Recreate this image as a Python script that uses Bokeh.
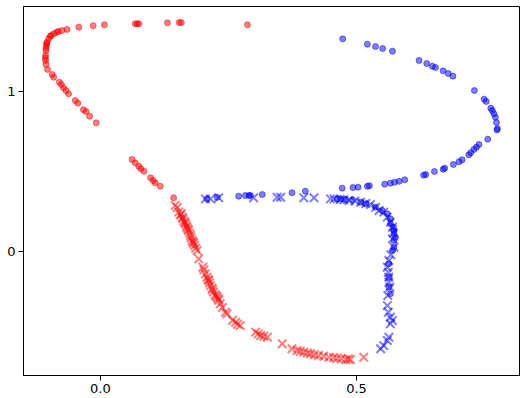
from bokeh.plotting import figure
from bokeh.models import FixedTicker, Range1d
from bokeh.embed import file_html
from bokeh.resources import INLINE

# red circles
red_o_x = [-0.042, -0.014, 0.008, 0.068, 0.072, 0.075, 0.131, 0.154, 0.158, 0.287,
           -0.065, -0.075, -0.085, -0.091, -0.096, -0.101, -0.104, -0.105, -0.106, -0.107,
           -0.107, -0.106, -0.103, -0.094, -0.091, -0.080, -0.076, -0.072, -0.067, -0.062,
           -0.049, -0.044, -0.033, -0.028, -0.021, -0.008, 0.062, 0.068, 0.075, 0.079,
           0.085, 0.098, 0.103, 0.107, 0.117, 0.143,
           -0.106, -0.107, -0.105, -0.098, -0.082]
red_o_y = [1.402, 1.411, 1.417, 1.423, 1.423, 1.423, 1.429, 1.431, 1.431, 1.417,
           1.388, 1.381, 1.371, 1.361, 1.350, 1.329, 1.308, 1.288, 1.256, 1.225,
           1.194, 1.169, 1.138, 1.106, 1.089, 1.058, 1.044, 1.023, 1.006, 0.986,
           0.944, 0.927, 0.886, 0.875, 0.846, 0.804, 0.575, 0.554, 0.533, 0.517,
           0.502, 0.461, 0.444, 0.429, 0.408, 0.336,
           1.270, 1.210, 1.300, 1.345, 1.375]

# red crosses
red_x_x = [0.146, 0.150, 0.153, 0.156, 0.160, 0.163, 0.166, 0.169, 0.172, 0.174,
           0.176, 0.179, 0.182, 0.184, 0.186, 0.189, 0.192, 0.200, 0.202, 0.205,
           0.208, 0.210, 0.212, 0.215, 0.218, 0.221, 0.224, 0.228, 0.231, 0.234,
           0.238, 0.244, 0.247, 0.258, 0.264, 0.268, 0.273, 0.303, 0.308, 0.313,
           0.319, 0.326, 0.355, 0.374, 0.384, 0.390, 0.397, 0.404, 0.410, 0.418,
           0.426, 0.436, 0.446, 0.455, 0.462, 0.470, 0.479, 0.484, 0.488, 0.514,
           0.158, 0.161, 0.165, 0.168, 0.171, 0.177, 0.181, 0.213, 0.219, 0.226, 0.230]
red_x_y = [0.288, 0.275, 0.246, 0.228, 0.214, 0.190, 0.173, 0.150, 0.131, 0.115,
           0.100, 0.069, 0.052, 0.038, 0.020, 0.006, -0.046, -0.098, -0.114, -0.140,
           -0.161, -0.175, -0.181, -0.213, -0.230, -0.254, -0.270, -0.286, -0.305, -0.327,
           -0.350, -0.379, -0.389, -0.430, -0.442, -0.455, -0.463, -0.504, -0.515, -0.525,
           -0.530, -0.536, -0.577, -0.608, -0.619, -0.623, -0.629, -0.634, -0.639, -0.645,
           -0.650, -0.655, -0.661, -0.663, -0.667, -0.670, -0.675, -0.672, -0.675, -0.661,
           0.236, 0.205, 0.182, 0.160, 0.140, 0.085, 0.060, -0.196, -0.240, -0.278, -0.296]

# blue circles
blue_o_x = [0.473, 0.521, 0.537, 0.551, 0.570, 0.622, 0.637, 0.648, 0.654, 0.669,
            0.679, 0.688, 0.730, 0.749, 0.753, 0.762, 0.765, 0.768, 0.771, 0.773,
            0.775, 0.774, 0.756, 0.739, 0.734, 0.729, 0.723, 0.719, 0.706, 0.700,
            0.689, 0.672, 0.669, 0.652, 0.635, 0.631, 0.594, 0.583, 0.574, 0.566,
            0.555, 0.525, 0.521, 0.503, 0.493, 0.472,
            0.208, 0.228, 0.270, 0.283, 0.290, 0.293, 0.316, 0.374, 0.400, 0.462,
            0.469, 0.479, 0.492, 0.508, 0.518, 0.537, 0.550, 0.560, 0.566, 0.566,
            0.572, 0.573, 0.573, 0.576, 0.573, 0.573, 0.570, 0.563, 0.563, 0.563,
            0.566]
blue_o_y = [1.329, 1.296, 1.281, 1.269, 1.252, 1.194, 1.175, 1.158, 1.150, 1.129,
            1.113, 1.096, 1.006, 0.952, 0.938, 0.896, 0.881, 0.861, 0.839, 0.806,
            0.768, 0.760, 0.702, 0.669, 0.652, 0.638, 0.617, 0.604, 0.573, 0.561,
            0.544, 0.521, 0.514, 0.500, 0.481, 0.477, 0.448, 0.439, 0.433, 0.427,
            0.421, 0.411, 0.408, 0.402, 0.400, 0.396,
            0.329, 0.339, 0.346, 0.350, 0.350, 0.350, 0.356, 0.367, 0.377, 0.329,
            0.329, 0.325, 0.323, 0.308, 0.298, 0.277, 0.256, 0.236, 0.204, 0.173,
            0.152, 0.131, 0.111, 0.089, 0.069, 0.027, 0.006, -0.077, -0.161, -0.223,
            -0.264]

# blue crosses
blue_x_x = [0.205, 0.215, 0.231, 0.299, 0.345, 0.352, 0.397, 0.417, 0.449, 0.456,
            0.468, 0.475, 0.485, 0.497, 0.508, 0.518, 0.527, 0.537, 0.544, 0.553,
            0.560, 0.566, 0.570, 0.572, 0.570, 0.573, 0.567, 0.563, 0.560, 0.562,
            0.563, 0.563, 0.565, 0.561, 0.560, 0.562, 0.566, 0.570, 0.566, 0.563,
            0.560, 0.553, 0.547]
blue_x_y = [0.329, 0.329, 0.336, 0.336, 0.339, 0.339, 0.336, 0.336, 0.329, 0.329,
            0.326, 0.323, 0.319, 0.315, 0.308, 0.300, 0.294, 0.277, 0.256, 0.246,
            0.215, 0.183, 0.152, 0.115, 0.079, 0.027, -0.020, -0.056, -0.098, -0.130,
            -0.161, -0.192, -0.223, -0.275, -0.338, -0.380, -0.411, -0.431, -0.452, -0.536,
            -0.556, -0.588, -0.608]

x_ticks = [0.0, 0.5]
x_tick_labels = ["0.0", "0.5"]
y_ticks = [0, 1]
y_tick_labels = ["0", "1"]

p = figure(width=519, height=393, output_backend="svg", toolbar_location=None,
           x_range=Range1d(-0.150, 0.818), y_range=Range1d(-0.775, 1.53125),
           min_border_left=20, min_border_right=3, min_border_top=1, min_border_bottom=23,
           styles={"position": "absolute", "top": "5px", "left": "3px"})

p.scatter(red_o_x, red_o_y, marker="circle", size=6, color="red", alpha=0.5, line_width=1)
p.scatter(blue_o_x, blue_o_y, marker="circle", size=6, color="blue", alpha=0.5, line_width=1)
p.scatter(red_x_x, red_x_y, marker="x", size=12, color="red", alpha=0.5, line_width=2)
p.scatter(blue_x_x, blue_x_y, marker="x", size=12, color="blue", alpha=0.5, line_width=2)

p.xgrid.visible = False
p.ygrid.visible = False
p.outline_line_color = "black"
p.outline_line_alpha = 1
p.outline_line_width = 1
p.background_fill_color = "white"
p.border_fill_color = "white"

p.xaxis.ticker = FixedTicker(ticks=x_ticks)
p.xaxis.major_label_overrides = {t: l for t, l in zip(x_ticks, x_tick_labels)}
p.yaxis.ticker = FixedTicker(ticks=y_ticks)
p.yaxis.major_label_overrides = {t: l for t, l in zip(y_ticks, y_tick_labels)}

for ax in (p.xaxis[0], p.yaxis[0]):
    ax.axis_line_color = "black"
    ax.major_tick_line_color = "black"
    ax.major_tick_out = 5
    ax.major_tick_in = 0
    ax.minor_tick_line_color = None
    ax.major_label_text_font = "DejaVu Sans"
    ax.major_label_text_font_size = "13px"
    ax.major_label_text_color = "black"
    ax.major_label_standoff = 3

open("out.html", "w").write(file_html(p, INLINE))
